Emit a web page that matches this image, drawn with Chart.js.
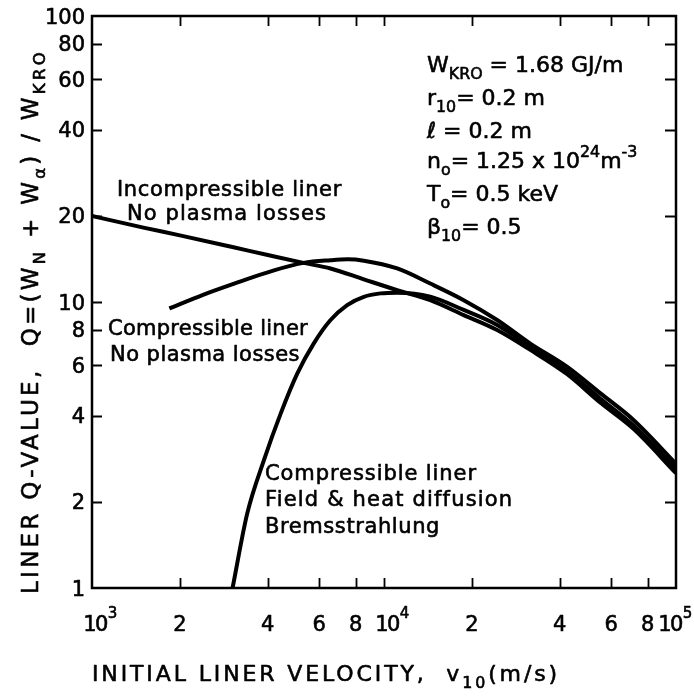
<!DOCTYPE html>
<html>
<head>
<meta charset="utf-8">
<script src="https://cdn.jsdelivr.net/npm/chart.js@4.4.1/dist/chart.umd.min.js"></script>
<style>
  html, body { margin: 0; padding: 0; background: #fff; }
  #wrap { width: 694px; height: 697px; }
</style>
</head>
<body>
<div id="wrap"><canvas id="qChart" width="694" height="697"></canvas></div>
<script>
// Liner Q-value against initial liner velocity, log-log

const xTickValues = [1000, 2000, 4000, 6000, 8000, 10000, 20000, 40000, 60000, 80000, 100000];
const xTickLabels = ['10', '2', '4', '6', '8', '10', '2', '4', '6', '8', '10'];
const xTickExponents = ['3', '', '', '', '', '4', '', '', '', '', '5'];
const yTickValues = [1, 2, 4, 6, 8, 10, 20, 40, 60, 80, 100];
const yTickLabels = ['1', '2', '4', '6', '8', '10', '20', '40', '60', '80', '100'];

// incompressible liner, no plasma losses
const incompressibleV = [1000, 1500, 2000, 3000, 4000, 5300, 6560, 8530, 11100, 14400, 18750, 24400, 31700, 42300, 55000, 71500, 100000];
const incompressibleQ = [20, 18.2, 17.1, 15.6, 14.6, 13.7, 13.1, 12.0, 11.0, 10.15, 9.0, 7.98, 6.8, 5.6, 4.45, 3.6, 2.52];

// compressible liner, no plasma losses
const compressibleV = [1840, 2400, 3070, 4200, 5300, 6560, 7500, 8530, 11100, 14400, 18750, 24400, 31700, 42300, 55000, 71500, 100000];
const compressibleQ = [9.5, 10.6, 11.6, 12.9, 13.7, 14.0, 14.1, 13.95, 13.1, 11.6, 10.15, 8.65, 7.15, 5.94, 4.8, 3.87, 2.72];

// compressible liner with field & heat diffusion and bremsstrahlung
const bremsV = [3030, 3400, 3880, 4430, 5050, 5750, 6560, 7480, 8530, 9730, 11100, 14400, 18750, 24400, 31700, 42300, 55000, 71500, 100000];
const bremsQ = [1.0, 1.82, 2.8, 4.08, 5.63, 7.17, 8.65, 9.76, 10.43, 10.72, 10.78, 10.44, 9.38, 8.31, 6.98, 5.75, 4.6, 3.7, 2.62];

const FONT = 'DejaVu Sans';
// horizontal nudge of the "10" in each decade label, px
const DECADE_SHIFT = [3, 3, -6];

const toPoints = (xs, ys) => xs.map((x, i) => ({ x: x, y: ys[i] }));

function curve(label, xs, ys) {
    return {
        label: label,
        data: toPoints(xs, ys),
        borderColor: '#000',
        borderWidth: 4,
        pointRadius: 0,
        showLine: true,
        cubicInterpolationMode: 'monotone',
        fill: false,
        borderCapStyle: 'butt',
    };
}

// text pieces: [text, '' | 'sub' | 'sup'], drawn with a hairline outline for weight
function drawRich(ctx, parts, x, y, size, spacing) {
    let cx = x;
    ctx.lineWidth = 0.6;
    ctx.lineJoin = 'round';
    parts.forEach(([t, kind]) => {
        const s = kind ? size * 0.72 : size;
        const dy = kind === 'sub' ? size * 0.32 : kind === 'sup' ? -size * 0.5 : 0;
        ctx.font = `${s}px "${FONT}"`;
        ctx.letterSpacing = spacing + 'px';
        ctx.fillText(t, cx, y + dy);
        ctx.strokeText(t, cx, y + dy);
        cx += ctx.measureText(t).width;
    });
    ctx.letterSpacing = '0px';
    return cx - x;
}

function richWidth(ctx, parts, size, spacing) {
    let w = 0;
    parts.forEach(([t, kind]) => {
        const s = kind ? size * 0.72 : size;
        ctx.font = `${s}px "${FONT}"`;
        ctx.letterSpacing = spacing + 'px';
        w += ctx.measureText(t).width;
    });
    ctx.letterSpacing = '0px';
    return w;
}

// spread letters so a string covers the given width
function fitSpacing(ctx, parts, size, width) {
    const n = parts.reduce((a, p) => a + p[0].length, 0);
    const w0 = richWidth(ctx, parts, size, 0);
    return Math.max(-1, (width - w0) / n);
}

const curveLabels = [
    { x: 117, y: 196, w: 225, text: 'Incompressible liner' },
    { x: 127, y: 220, w: 200, text: 'No plasma losses' },
    { x: 108, y: 335, w: 200, text: 'Compressible liner' },
    { x: 110, y: 361, w: 190, text: 'No plasma losses' },
    { x: 265, y: 480, w: 212, text: 'Compressible liner' },
    { x: 265, y: 506, w: 248, text: 'Field & heat diffusion' },
    { x: 265, y: 533, w: 175, text: 'Bremsstrahlung' },
];

const paramLines = [
    { y: 72, parts: [['W', ''], ['KRO', 'sub'], [' = 1.68 GJ/m', '']] },
    { y: 105, parts: [['r', ''], ['10', 'sub'], ['= 0.2 m', '']] },
    { y: 138, parts: [['ℓ = 0.2 m', '']] },
    { y: 168, parts: [['n', ''], ['o', 'sub'], ['= 1.25 x 10', ''], ['24', 'sup'], ['m', ''], ['-3', 'sup']] },
    { y: 201, parts: [['T', ''], ['o', 'sub'], ['= 0.5 keV', '']] },
    { y: 234, parts: [['β', ''], ['10', 'sub'], ['= 0.5', '']] },
];

const yTitle = [['LINER Q-VALUE,  Q=(W', ''], ['N', 'sub'], [' + W', ''], ['α', 'sub'], [') / W', ''], ['KRO', 'sub']];
const xTitle = [['INITIAL LINER VELOCITY,  v', ''], ['10', 'sub'], ['(m/s)', '']];

const TICK_FONT = 21;
const X_LABEL_BASE = 631;   // baseline of x tick labels
const Y_LABEL_RIGHT = 85;   // right edge of y tick labels

const framePlugin = {
    id: 'frame',
    afterDraw(chart) {
        const ctx = chart.ctx;
        const a = chart.chartArea;
        const xs = chart.scales.x;
        const ys = chart.scales.y;
        ctx.save();
        ctx.strokeStyle = '#000';
        ctx.fillStyle = '#000';
        ctx.textBaseline = 'alphabetic';
        ctx.textAlign = 'left';

        // box
        ctx.lineWidth = 2.5;
        ctx.strokeRect(a.left, a.top, a.right - a.left, a.bottom - a.top);

        // inward tick marks on all four sides
        ctx.lineWidth = 1.8;
        ctx.beginPath();
        xTickValues.slice(1, -1).forEach(v => {
            const px = Math.round(xs.getPixelForValue(v)) + 0.5;
            ctx.moveTo(px, a.bottom); ctx.lineTo(px, a.bottom - 10);
            ctx.moveTo(px, a.top); ctx.lineTo(px, a.top + 10);
        });
        yTickValues.slice(1, -1).forEach(v => {
            const py = Math.round(ys.getPixelForValue(v)) + 0.5;
            ctx.moveTo(a.left, py); ctx.lineTo(a.left + 10, py);
            ctx.moveTo(a.right, py); ctx.lineTo(a.right - 11, py);
        });
        ctx.stroke();

        // x tick labels; decades get a raised exponent and tighter digits
        let d = 0;
        xTickValues.forEach((v, i) => {
            const parts = [[xTickLabels[i], '']];
            const sp = xTickExponents[i] ? -1.5 : 0;
            const w = richWidth(ctx, parts, TICK_FONT, sp);
            let cx = xs.getPixelForValue(v);
            if (xTickExponents[i]) {
                cx += DECADE_SHIFT[d++];
                drawRich(ctx, [[xTickExponents[i], '']], cx + w / 2 + 1, X_LABEL_BASE - 13, 15, 0);
            }
            drawRich(ctx, parts, cx - w / 2, X_LABEL_BASE, TICK_FONT, sp);
        });

        // y tick labels
        yTickValues.forEach((v, i) => {
            const parts = [[yTickLabels[i], '']];
            const w = richWidth(ctx, parts, TICK_FONT, 0);
            drawRich(ctx, parts, Y_LABEL_RIGHT - w, ys.getPixelForValue(v) + 7.5, TICK_FONT, 0);
        });

        // axis titles
        let sp = fitSpacing(ctx, xTitle, 22, 468);
        drawRich(ctx, xTitle, 92, 681, 22, sp);

        ctx.save();
        ctx.translate(38, 322);
        ctx.rotate(-Math.PI / 2);
        sp = fitSpacing(ctx, yTitle, 23, 545);
        drawRich(ctx, yTitle, -272, 0, 23, sp);
        ctx.restore();

        // curve annotations
        curveLabels.forEach(l => {
            const parts = [[l.text, '']];
            drawRich(ctx, parts, l.x, l.y, 21, fitSpacing(ctx, parts, 21, l.w));
        });

        // parameter block
        paramLines.forEach(l => drawRich(ctx, l.parts, 427, l.y, 22, 0));

        ctx.restore();
    }
};

new Chart(document.getElementById('qChart'), {
    type: 'scatter',
    data: {
        datasets: [
            curve('Incompressible liner', incompressibleV, incompressibleQ),
            curve('Compressible liner', compressibleV, compressibleQ),
            curve('Compressible liner, diffusion + bremsstrahlung', bremsV, bremsQ),
        ],
    },
    options: {
        responsive: false,
        animation: false,
        devicePixelRatio: 1,
        layout: { padding: { top: 16, right: 18, left: 0, bottom: 0 } },
        plugins: {
            legend: { display: false },
            tooltip: { enabled: false },
        },
        scales: {
            x: {
                type: 'logarithmic',
                min: 1000,
                max: 100000,
                grid: { display: false },
                border: { display: false },
                // labels are drawn by the frame plugin
                ticks: { display: false },
                afterFit: s => { s.height = 109; s.paddingLeft = 0; s.paddingRight = 0; },
            },
            y: {
                type: 'logarithmic',
                min: 1,
                max: 100,
                grid: { display: false },
                border: { display: false },
                ticks: { display: false },
                afterFit: s => { s.width = 92; s.paddingTop = 0; s.paddingBottom = 0; },
            },
        },
    },
    plugins: [framePlugin],
});
</script>
</body>
</html>
